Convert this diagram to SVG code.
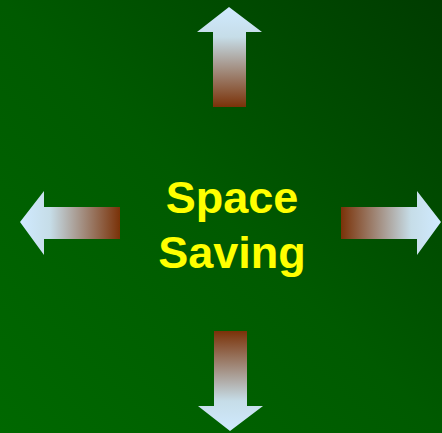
<svg xmlns="http://www.w3.org/2000/svg" width="442" height="433" viewBox="0 0 442 433">
  <defs>
    <linearGradient id="bg" x1="0" y1="1" x2="1" y2="0">
      <stop offset="0" stop-color="#006800"/>
      <stop offset="0.5" stop-color="#005a00"/>
      <stop offset="1" stop-color="#003c00"/>
    </linearGradient>
    <linearGradient id="gUp" gradientUnits="userSpaceOnUse" x1="0" y1="107" x2="0" y2="7">
      <stop offset="0" stop-color="#7a3208"/>
      <stop offset="0.7" stop-color="#c6dde8"/>
      <stop offset="1" stop-color="#d0eaff"/>
    </linearGradient>
    <linearGradient id="gDown" gradientUnits="userSpaceOnUse" x1="0" y1="331" x2="0" y2="431">
      <stop offset="0" stop-color="#7a3208"/>
      <stop offset="0.7" stop-color="#c6dde8"/>
      <stop offset="1" stop-color="#d0eaff"/>
    </linearGradient>
    <linearGradient id="gLeft" gradientUnits="userSpaceOnUse" x1="120" y1="0" x2="20" y2="0">
      <stop offset="0" stop-color="#7a3208"/>
      <stop offset="0.7" stop-color="#c6dde8"/>
      <stop offset="1" stop-color="#d0eaff"/>
    </linearGradient>
    <linearGradient id="gRight" gradientUnits="userSpaceOnUse" x1="341" y1="0" x2="441" y2="0">
      <stop offset="0" stop-color="#7a3208"/>
      <stop offset="0.7" stop-color="#c6dde8"/>
      <stop offset="1" stop-color="#d0eaff"/>
    </linearGradient>
    <style>
      .label { font-family: "Liberation Sans", Arial, sans-serif; font-weight: bold; font-size: 45px; fill: #ffff00; text-anchor: middle; }
    </style>
  </defs>
  <rect x="0" y="0" width="442" height="433" fill="url(#bg)"/>
  <g id="arrow-up">
    <polygon points="229,7 262,32 246,32 246,107 213,107 213,32 197,32" fill="url(#gUp)"/>
  </g>
  <g id="arrow-left">
    <polygon points="20,222 44,191 44,207 120,207 120,239 44,239 44,255" fill="url(#gLeft)"/>
  </g>
  <g id="arrow-right">
    <polygon points="441,222 417,191 417,207 341,207 341,239 417,239 417,255" fill="url(#gRight)"/>
  </g>
  <g id="arrow-down">
    <polygon points="230,431 263,406 247,406 247,331 214,331 214,406 198,406" fill="url(#gDown)"/>
  </g>
  <g id="center">
    <text class="label" x="232" y="213">Space</text>
    <text class="label" x="232" y="268">Saving</text>
  </g>
</svg>
